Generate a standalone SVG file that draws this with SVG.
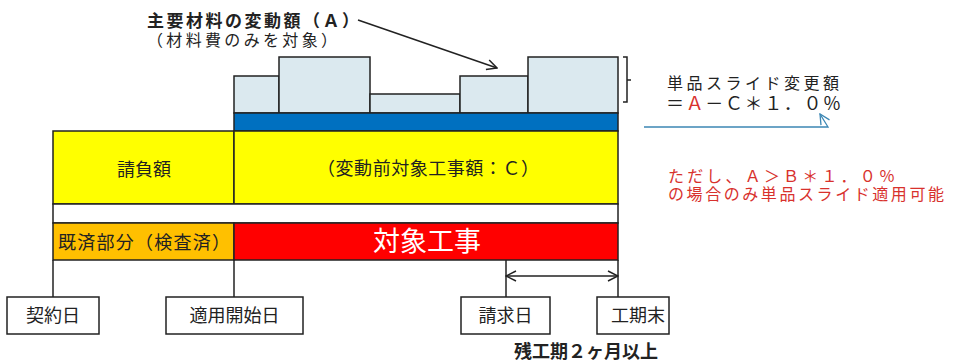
<svg xmlns="http://www.w3.org/2000/svg" width="955" height="363" viewBox="0 0 955 363">
<style>
text{font-family:"Liberation Sans","Noto Sans CJK JP",sans-serif;fill:#222}
.bx{stroke:#222;stroke-width:1.5}
.ln{stroke:#222;stroke-width:1.5;fill:none}
.lb{fill:#fff;stroke:#222;stroke-width:1.5}
.mid{text-anchor:middle}
.red{fill:#d8312d}
</style>
<defs>
<marker id="open" viewBox="0 0 12 12" refX="11" refY="6" markerWidth="12" markerHeight="12" markerUnits="userSpaceOnUse" orient="auto-start-reverse">
<path d="M1,1 L11,6 L1,11" fill="none" stroke="#222" stroke-width="1.5"/>
</marker>
<marker id="openb" viewBox="0 0 12 12" refX="11" refY="6" markerWidth="12" markerHeight="12" markerUnits="userSpaceOnUse" orient="auto">
<path d="M1,1 L11,6 L1,11" fill="none" stroke="#3c87b4" stroke-width="1.3"/>
</marker>
</defs>
<rect width="955" height="363" fill="#fff"/>

<g id="material-bars">
<rect class="bx" x="234" y="76" width="45" height="37" fill="#dbe9ef"/>
<rect class="bx" x="279" y="57" width="91" height="56" fill="#dbe9ef"/>
<rect class="bx" x="370" y="94" width="90" height="19" fill="#dbe9ef"/>
<rect class="bx" x="460" y="76" width="68" height="37" fill="#dbe9ef"/>
<rect class="bx" x="528" y="57" width="90" height="56" fill="#dbe9ef"/>
</g>
<g id="blue-bar"><rect class="bx" x="234" y="113" width="384" height="18" fill="#0070c0"/></g>
<g id="contract">
<rect class="bx" x="53" y="131" width="181" height="73" fill="#ffff00"/>
<text class="mid" x="144" y="176" font-size="18">請負額</text>
</g>
<g id="target-amount">
<rect class="bx" x="234" y="131" width="384" height="73" fill="#ffff00"/>
<text class="mid" x="428" y="175" font-size="18" textLength="222">（変動前対象工事額：Ｃ）</text>
</g>
<g id="strip"><rect class="bx" x="53" y="204" width="565" height="19" fill="#fff"/></g>
<g id="completed">
<rect class="bx" x="53" y="223" width="181" height="37" fill="#ffc000"/>
<text x="58" y="249" font-size="18" textLength="172">既済部分（検査済）</text>
</g>
<g id="target-work">
<rect class="bx" x="234" y="223" width="384" height="37" fill="#ff0000"/>
<text class="mid" x="427" y="251" font-size="27" style="fill:#fff">対象工事</text>
</g>

<g id="connectors">
<line class="ln" x1="53" y1="260" x2="53" y2="297"/>
<line class="ln" x1="234" y1="260" x2="234" y2="297"/>
<line class="ln" x1="506" y1="260" x2="506" y2="297"/>
<line class="ln" x1="618" y1="260" x2="618" y2="297"/>
<line class="ln" x1="506" y1="276" x2="618" y2="276" marker-start="url(#open)" marker-end="url(#open)"/>
<line class="ln" x1="358" y1="20" x2="497" y2="68" marker-end="url(#open)"/>
<path class="ln" d="M623,57 H627 V102 H623 M627,80 H631" stroke-width="1.2"/>
<polyline points="644,127 828,127 820,114" fill="none" stroke="#3c87b4" stroke-width="1.3" marker-end="url(#openb)"/>
</g>

<g id="date-contract"><rect class="lb" x="7" y="297" width="92" height="37"/><text class="mid" x="53" y="322" font-size="18">契約日</text></g>
<g id="date-start"><rect class="lb" x="166" y="297" width="137" height="37"/><text class="mid" x="234.5" y="322" font-size="18">適用開始日</text></g>
<g id="date-claim"><rect class="lb" x="461" y="297" width="89" height="37"/><text class="mid" x="505.5" y="322" font-size="18">請求日</text></g>
<g id="date-end"><rect class="lb" x="597" y="297" width="72" height="37"/><text class="mid" x="638" y="322" font-size="18">工期末</text></g>

<g id="labels">
<text x="147" y="27" font-size="17" font-weight="bold" textLength="212">主要材料の変動額（Ａ）</text>
<text x="147" y="46" font-size="16" textLength="190">（材料費のみを対象）</text>
<text class="mid" x="586" y="358" font-size="18" font-weight="bold">残工期２ヶ月以上</text>
<text x="667" y="89" font-size="16" textLength="172">単品スライド変更額</text>
<text x="666" y="110" font-size="18" textLength="175">＝<tspan class="red">Ａ</tspan>－Ｃ＊１．０％</text>
<text class="red" x="668" y="182" font-size="16" textLength="227">ただし、Ａ＞Ｂ＊１．０％</text>
<text class="red" x="668" y="200" font-size="16" textLength="276">の場合のみ単品スライド適用可能</text>
</g>
</svg>
